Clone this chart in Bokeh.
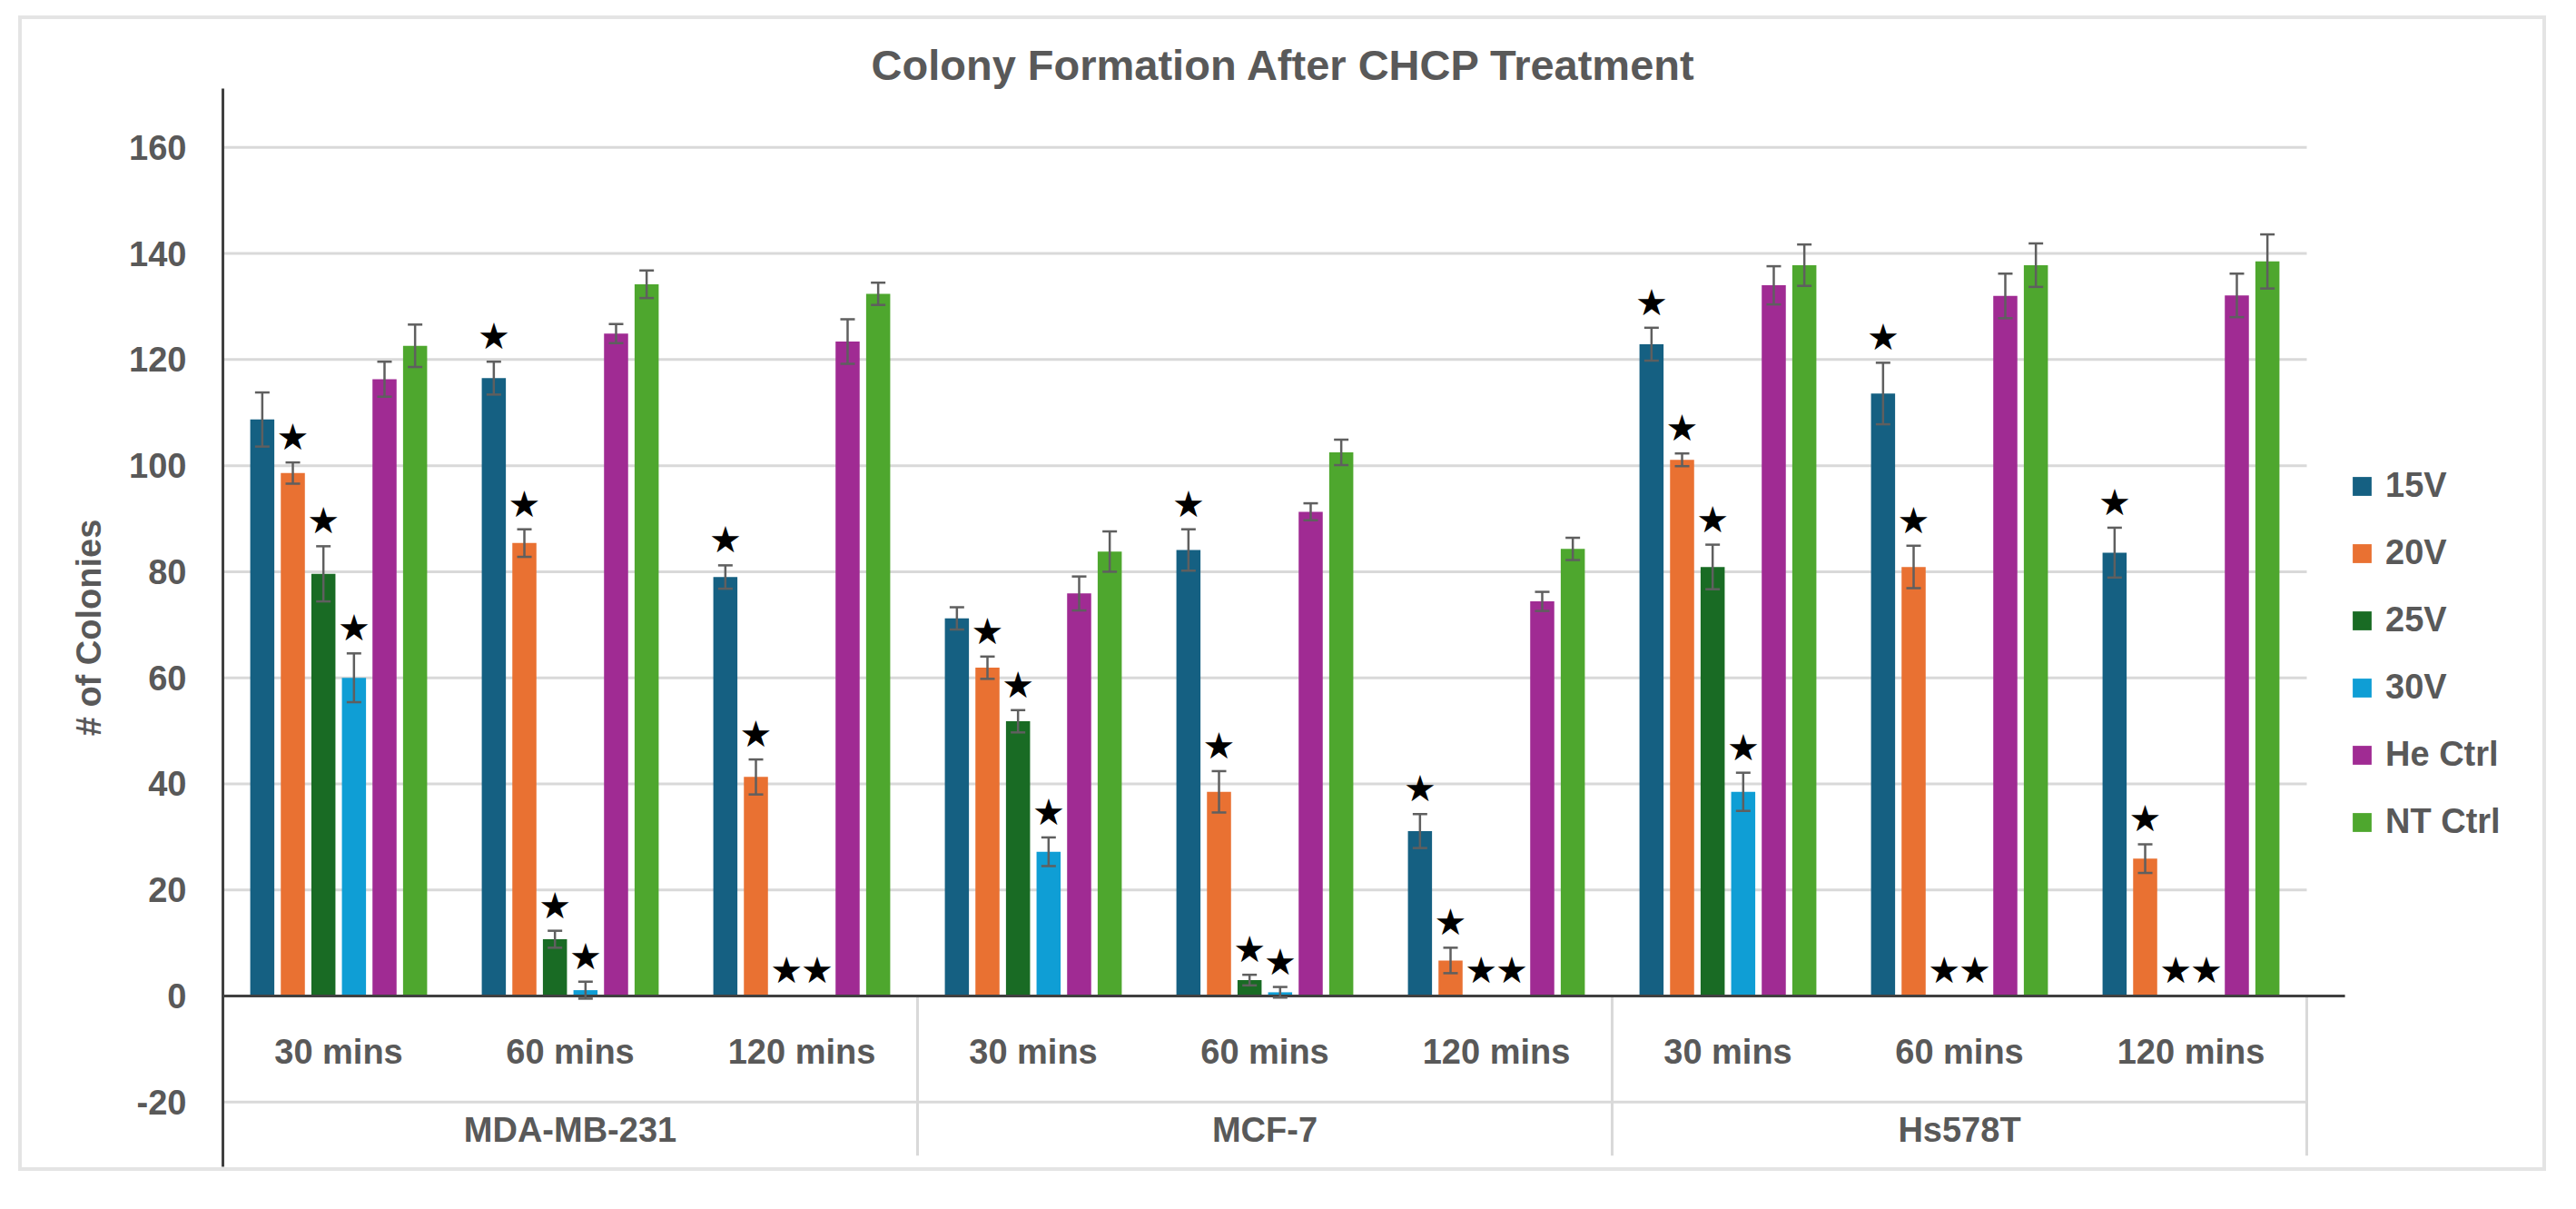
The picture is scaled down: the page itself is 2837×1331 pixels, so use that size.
import numpy as np
from bokeh.plotting import figure
from bokeh.models import ColumnDataSource, Range1d, FixedTicker, Whisker, TeeHead, Legend, LegendItem
from bokeh.transform import dodge
from bokeh.core.properties import value
from bokeh.embed import file_html
from bokeh.resources import INLINE

# ---------------- data ----------------
cell_lines = ["MDA-MB-231", "MCF-7", "Hs578T"]
times = ["30 mins", "60 mins", "120 mins"]
series = ["15V", "20V", "25V", "30V", "He Ctrl", "NT Ctrl"]
colors = ["#156082", "#E97132", "#196B24", "#0F9ED5", "#A02B93", "#4EA72E"]

# order: MDA 30/60/120, MCF-7 30/60/120, Hs578T 30/60/120
v15 = [108.7, 116.5, 79.0, 71.2, 84.1, 31.1, 122.9, 113.6, 83.6]
e15 = [5.1, 3.1, 2.2, 2.1, 3.9, 3.2, 3.1, 5.8, 4.7]
v20 = [98.6, 85.4, 41.3, 61.9, 38.5, 6.7, 101.1, 80.9, 25.9]
e20 = [2.0, 2.6, 3.3, 2.1, 3.9, 2.4, 1.2, 4.0, 2.7]
v25 = [79.6, 10.7, 0.0, 51.8, 3.0, 0.0, 80.9, 0.0, 0.0]
e25 = [5.2, 1.6, 0.0, 2.1, 1.0, 0.0, 4.2, 0.0, 0.0]
v30 = [60.0, 1.1, 0.0, 27.2, 0.7, 0.0, 38.5, 0.0, 0.0]
e30 = [4.6, 1.6, 0.0, 2.7, 1.0, 0.0, 3.6, 0.0, 0.0]
vhe = [116.3, 124.9, 123.4, 75.9, 91.3, 74.4, 134.0, 132.0, 132.1]
ehe = [3.3, 1.8, 4.2, 3.2, 1.6, 1.8, 3.6, 4.2, 4.1]
vnt = [122.6, 134.2, 132.4, 83.8, 102.5, 84.3, 137.8, 137.8, 138.5]
ent = [4.0, 2.6, 2.1, 3.8, 2.4, 2.1, 3.9, 4.1, 5.1]

# significance markers (1 = star shown)
s15 = [0, 1, 1, 0, 1, 1, 1, 1, 1]
s20 = [1, 1, 1, 1, 1, 1, 1, 1, 1]
s25 = [1, 1, 1, 1, 1, 1, 1, 1, 1]
s30 = [1, 1, 1, 1, 1, 1, 1, 1, 1]
she = [0, 0, 0, 0, 0, 0, 0, 0, 0]
snt = [0, 0, 0, 0, 0, 0, 0, 0, 0]

y_ticks = [-20, 0, 20, 40, 60, 80, 100, 120, 140, 160]

# ---------------- style ----------------
FONT = "Liberation Sans"
TXT = "#595959"
GRID = "#d9d9d9"
AX = "#404040"
pitch = 0.132
bar_w = 0.104
star_gap = 4.8

n_cat = len(cell_lines) * len(times)
px_per_cat = 255
frame_w = 2555
x_end = frame_w / px_per_cat
axis_end = 9.165

p = figure(frame_width=frame_w, frame_height=1187,
           x_range=Range1d(0, x_end), y_range=Range1d(-32.2, 171.1),
           output_backend="svg", toolbar_location=None,
           x_axis_location=None, y_axis_location="left",
           min_border_left=221, min_border_right=0,
           min_border_top=76, min_border_bottom=1,
           margin=(21, 0, 0, 24))
p.styles = {"outline": "4px solid #e4e4e4"}
p.outline_line_color = None
p.xgrid.visible = False
p.ygrid.visible = False
p.background_fill_color = "white"
p.border_fill_color = "white"

# title
p.title.text = "Colony Formation After CHCP Treatment"
p.title.align = "left"
p.title.offset = 714
p.title.text_font = FONT
p.title.text_font_size = "47px"
p.title.text_font_style = "bold"
p.title.text_color = TXT
p.title.standoff = 0

# gridlines (limited to the category span)
p.segment(x0=0, x1=n_cat, y0=y_ticks, y1=y_ticks, line_color=GRID, line_width=3)

# group separators in the category-label area
bounds = [len(times) * (g + 1) for g in range(len(cell_lines))]
p.segment(x0=bounds, x1=bounds, y0=0, y1=-30.1, line_color=GRID, line_width=3)

cx = np.arange(n_cat) + 0.5

vals = [v15, v20, v25, v30, vhe, vnt]
errs = [e15, e20, e25, e30, ehe, ent]
stars = [s15, s20, s25, s30, she, snt]

items = []
for k, (name, col, v, e, s) in enumerate(zip(series, colors, vals, errs, stars)):
    off = (k - (len(series) - 1) / 2) * pitch
    v = np.array(v, dtype=float)
    e = np.array(e, dtype=float)
    src = ColumnDataSource(dict(x=cx, top=v))
    r = p.vbar(x=dodge("x", off, range=p.x_range), top="top", bottom=0, width=bar_w,
               source=src, fill_color=col, line_color=None)
    items.append(LegendItem(label=name, renderers=[r]))

    m = e > 0
    wsrc = ColumnDataSource(dict(x=cx[m], up=(v + e)[m], lo=(v - e)[m]))
    w = Whisker(base=dodge("x", off, range=p.x_range), upper="up", lower="lo", source=wsrc,
                line_color="#5f5f5f", line_width=2.5,
                upper_head=TeeHead(size=16, line_color="#5f5f5f", line_width=2.5),
                lower_head=TeeHead(size=16, line_color="#5f5f5f", line_width=2.5))
    w.level = "annotation"
    p.add_layout(w)

    sm = np.array(s) > 0
    if sm.any():
        ssrc = ColumnDataSource(dict(x=cx[sm], y=(v + e)[sm] + star_gap))
        p.text(x=dodge("x", off, range=p.x_range), y="y", text=value("★"), source=ssrc,
               text_font=value("DejaVu Sans"), text_font_size="40px",
               text_align="center", text_baseline="middle", text_color="black")

# zero axis line
p.segment(x0=0, x1=axis_end, y0=0, y1=0, line_color=AX, line_width=3)

# category labels
time_labels = [t for _ in cell_lines for t in times]
p.text(x=cx, y=-10.6, text=time_labels, text_font=value(FONT), text_font_size="38px",
       text_font_style="bold", text_color=TXT, text_align="center", text_baseline="middle")
gx = np.arange(len(cell_lines)) * len(times) + len(times) / 2
p.text(x=gx, y=-25.3, text=cell_lines, text_font=value(FONT), text_font_size="38px",
       text_font_style="bold", text_color=TXT, text_align="center", text_baseline="middle")

# y axis
yax = p.yaxis[0]
yax.ticker = FixedTicker(ticks=y_ticks)
yax.major_label_overrides = {t: str(t) for t in y_ticks}
yax.axis_line_color = AX
yax.axis_line_width = 3
yax.major_tick_line_color = None
yax.minor_tick_line_color = None
yax.major_tick_out = 0
yax.major_label_standoff = 40
yax.major_label_text_font = FONT
yax.major_label_text_font_size = "38px"
yax.major_label_text_font_style = "bold"
yax.major_label_text_color = TXT
yax.axis_label = "# of Colonies"
yax.axis_label_text_font = FONT
yax.axis_label_text_font_size = "38px"
yax.axis_label_text_font_style = "bold"
yax.axis_label_text_color = TXT
yax.axis_label_standoff = 20

# legend (inside the wide frame, right of the category span)
legend = Legend(items=items, location=(2343, 358))
legend.label_text_font = FONT
legend.label_text_font_size = "38px"
legend.label_text_font_style = "bold"
legend.label_text_color = TXT
legend.glyph_width = 26
legend.glyph_height = 26
legend.label_standoff = 13
legend.spacing = 31
legend.padding = 10
legend.margin = 0
legend.border_line_color = None
legend.background_fill_alpha = 0
p.add_layout(legend)

open("out.html", "w").write(file_html(p, INLINE))
